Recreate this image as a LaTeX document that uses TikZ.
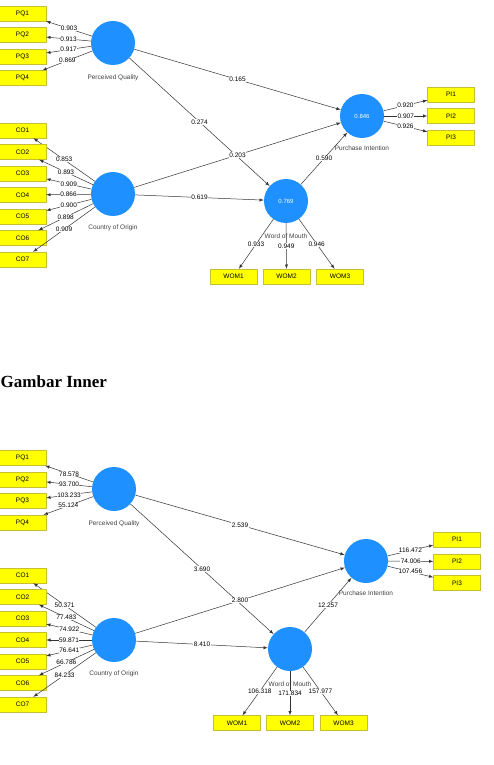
\documentclass[tikz,border=0pt]{standalone}
\usepackage{fontspec}
\setmainfont{Liberation Sans}
\newfontfamily\headfont{Liberation Serif}
\usetikzlibrary{positioning}
\definecolor{lvblue}{RGB}{30,144,255}
\definecolor{mvyellow}{RGB}{255,255,0}

\begin{document}
\begin{tikzpicture}[x=1pt,y=-1pt,
        lv/.style={circle,fill=lvblue,minimum size=44pt,inner sep=0pt,text=white,font=\fontsize{6}{7}\selectfont},
        mv/.style={draw=black!25!yellow,fill=mvyellow,minimum width=47pt,minimum height=15pt,inner sep=0pt,font=\fontsize{6.5}{7}\selectfont},
        lvname/.style={inner sep=0.5pt,text=black!75,font=\fontsize{6.5}{7}\selectfont},
        link/.style={draw=black!80,line width=0.5pt,-latex},
        coef/.style={fill=white,inner sep=0.4pt,font=\fontsize{6.5}{7}\selectfont}]
        \useasboundingbox (0,0) rectangle (493,765);

        \node[lv] (PQ)  at (113, 43)  {};
        \node[lv] (CO)  at (113,194)  {};
        \node[lv] (PI)  at (362,116)  {0.846};
        \node[lv] (WOM) at (286,201)  {0.769};

        \node[lvname, below=9pt of PQ]    (PQn)  {Perceived Quality};
        \node[lvname, below=8pt of CO]    (COn)  {Country of Origin};
        \node[lvname, below=6.5pt of PI]  (PIn)  {Purchase Intention};
        \node[lvname, below=10pt of WOM]  (WOMn) {Word of Mouth};

        \foreach \i/\y/\v in {1/13.5/0.903, 2/35/0.913, 3/56.5/0.917, 4/78/0.869} {
            \node[mv] (PQ\i) at (22.5,\y) {PQ\i};
            \draw[link] (PQ) -- (PQ\i) node[coef,midway] {\v};
        }
        \foreach \i/\y/\v in {1/130.5/0.853, 2/152/0.893, 3/173.5/0.909, 4/195/0.866, 5/216.5/0.900, 6/238/0.898, 7/259.5/0.909} {
            \node[mv] (CO\i) at (22.5,\y) {CO\i};
            \draw[link] (CO) -- (CO\i) node[coef,midway] {\v};
        }
        \foreach \i/\y/\v in {1/94.5/0.920, 2/116/0.907, 3/137.5/0.926} {
            \node[mv] (PI\i) at (451,\y) {PI\i};
            \draw[link] (PI) -- (PI\i) node[coef,midway] {\v};
        }
        \foreach \i/\x/\v in {1/233.5/0.933, 2/286.5/0.949, 3/340/0.946} {
            \node[mv] (WOM\i) at (\x,276.5) {WOM\i};
            \draw[link] (WOM) -- (WOM\i) node[coef,midway] {\v};
        }

        \draw[link] (PQ)  -- (PI)  node[coef,midway] {0.165};
        \draw[link] (PQ)  -- (WOM) node[coef,midway] {0.274};
        \draw[link] (CO)  -- (PI)  node[coef,midway] {0.203};
        \draw[link] (CO)  -- (WOM) node[coef,midway] {0.619};
        \draw[link] (WOM) -- (PI)  node[coef,midway] {0.590};

        \node[anchor=base west,inner sep=0pt,font=\headfont\bfseries\fontsize{17}{20}\selectfont] (title) at (0.5,387) {Gambar Inner};

        \node[lv] (bPQ)  at (114,489) {};
        \node[lv] (bCO)  at (114,640) {};
        \node[lv] (bPI)  at (366,561) {};
        \node[lv] (bWOM) at (290,649) {};

        \node[lvname, below=9pt of bPQ]    (bPQn)  {Perceived Quality};
        \node[lvname, below=8pt of bCO]    (bCOn)  {Country of Origin};
        \node[lvname, below=6.5pt of bPI]  (bPIn)  {Purchase Intention};
        \node[lvname, below=10pt of bWOM]  (bWOMn) {Word of Mouth};

        \foreach \i/\y/\v in {1/458/78.578, 2/479.5/93.700, 3/501/103.233, 4/522.5/55.124} {
            \node[mv] (bPQ\i) at (22.5,\y) {PQ\i};
            \draw[link] (bPQ) -- (bPQ\i) node[coef,midway] {\v};
        }
        \foreach \i/\y/\v in {1/575.5/50.371, 2/597/77.483, 3/618.5/74.922, 4/640/59.871, 5/661.5/76.641, 6/683/66.786, 7/704.5/84.233} {
            \node[mv] (bCO\i) at (22.5,\y) {CO\i};
            \draw[link] (bCO) -- (bCO\i) node[coef,midway] {\v};
        }
        \foreach \i/\y/\v in {1/539.5/116.472, 2/561.5/74.006, 3/583/107.456} {
            \node[mv] (bPI\i) at (457,\y) {PI\i};
            \draw[link] (bPI) -- (bPI\i) node[coef,midway] {\v};
        }
        \foreach \i/\x/\v in {1/237/106.318, 2/290/171.834, 3/343.5/157.977} {
            \node[mv] (bWOM\i) at (\x,723) {WOM\i};
            \draw[link] (bWOM) -- (bWOM\i) node[coef,midway] {\v};
        }

        \draw[link] (bPQ)  -- (bPI)  node[coef,midway] {2.539};
        \draw[link] (bPQ)  -- (bWOM) node[coef,midway] {3.690};
        \draw[link] (bCO)  -- (bPI)  node[coef,midway] {2.800};
        \draw[link] (bCO)  -- (bWOM) node[coef,midway] {8.410};
        \draw[link] (bWOM) -- (bPI)  node[coef,midway] {12.257};
    \end{tikzpicture}
\end{document}
